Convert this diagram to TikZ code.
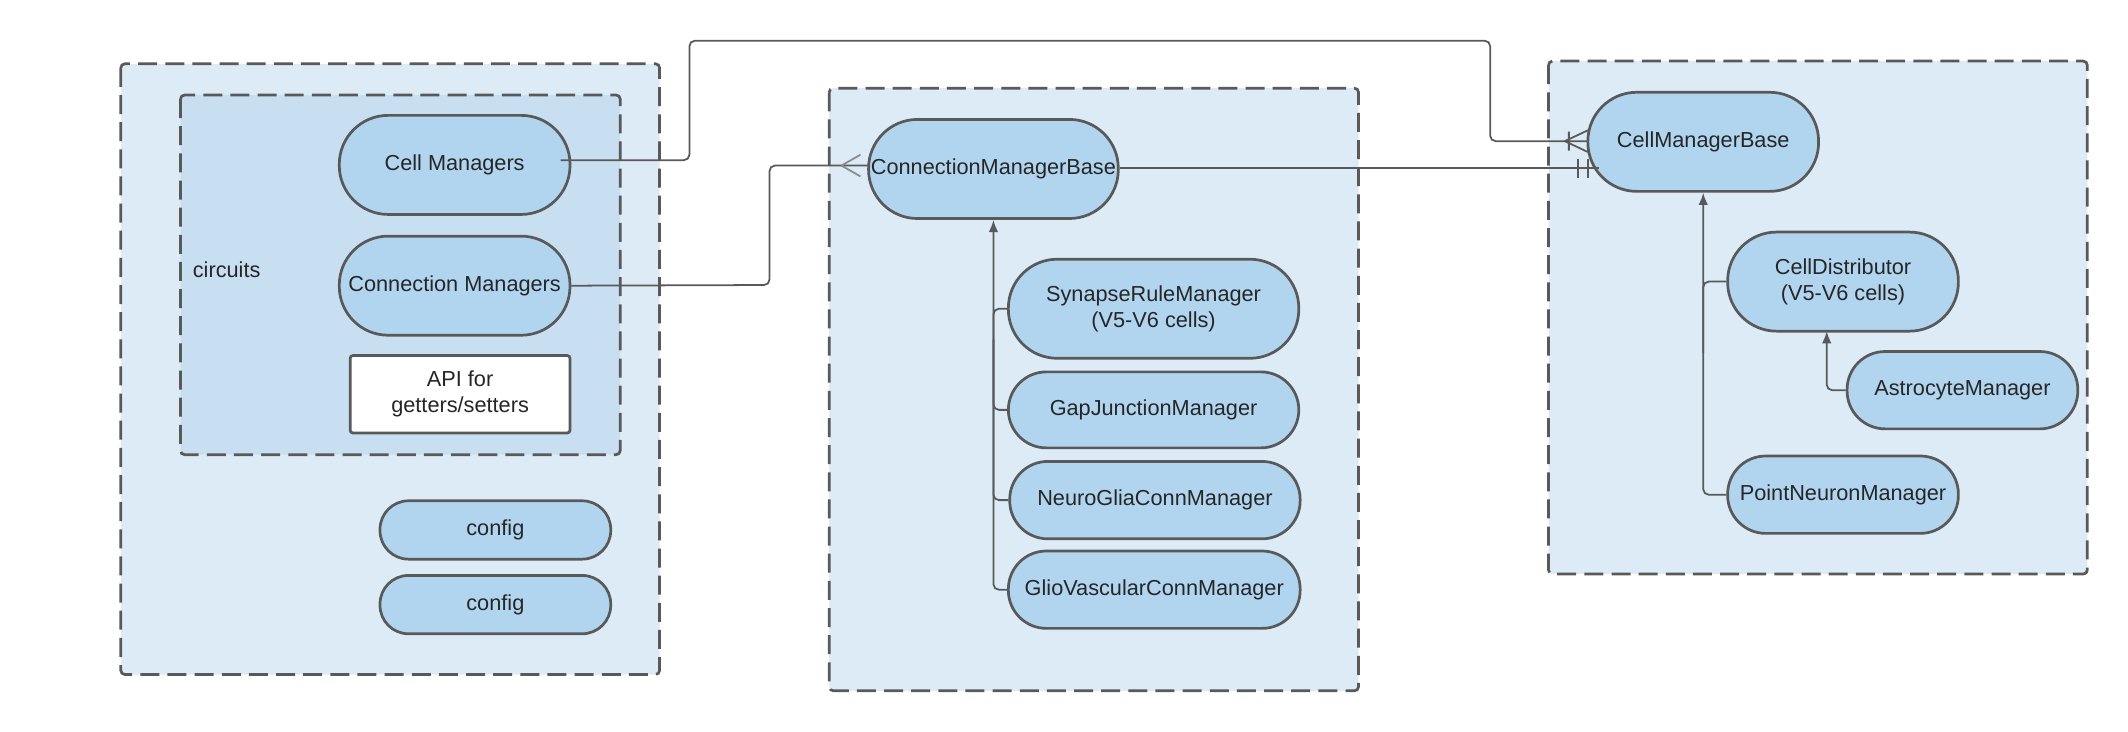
\documentclass[tikz,border=0pt]{standalone}
\usepackage{fontspec}
\setmainfont{Liberation Sans}
\usetikzlibrary{arrows.meta}
\begin{document}
\begin{tikzpicture}[x=1pt,y=-1pt,
  font=\fontsize{16}{19}\selectfont,
  cont/.style={draw=black!65,line width=2pt,dash pattern=on 14pt off 6pt,rounded corners=3pt},
  pill/.style={draw=black!65,line width=2pt,fill=pillc,inner sep=0pt,align=center,text=black!85},
  ln/.style={draw=black!65,line width=1.3pt,rounded corners=4pt}]
\definecolor{pillc}{HTML}{B1D5EF}
\definecolor{outer}{HTML}{DDEBF6}
\definecolor{inner}{HTML}{C8DFF2}
\useasboundingbox (0,0) rectangle (1568,539);
\path[cont,fill=outer] (89,47) rectangle (486,497);
\path[cont,fill=inner] (133,70) rectangle (457,335);
\path[cont,fill=outer] (611,65) rectangle (1001,509);
\path[cont,fill=outer] (1141,45) rectangle (1538,423);
\node[text=black!85] (circ) at (167,199) {circuits};
\newcommand{\pl}[6]{\node[pill,minimum width=#4,minimum height=#5,rounded corners=#6] (#1) at (#2,#3)}
\pl{cm}{335}{121.5}{170pt}{73pt}{36pt}{Cell Managers};
\pl{conm}{335}{210.5}{170pt}{73pt}{36pt}{Connection Managers};
\node[draw=black!65,line width=2pt,fill=white,minimum width=162pt,minimum height=57pt,rounded corners=2pt,align=center,inner sep=0pt,text=black!85] (api) at (339,290.5) {API for\\getters/setters};
\pl{cf1}{365}{390.5}{170pt}{43pt}{21pt}{config};
\pl{cf2}{365}{445.5}{170pt}{43pt}{21pt}{config};
\pl{cmb}{732}{124.5}{184pt}{73pt}{36pt}{ConnectionManagerBase};
\pl{srm}{850}{227.5}{214pt}{73pt}{36pt}{SynapseRuleManager\\(V5-V6 cells)};
\pl{gjm}{850}{302}{214pt}{56pt}{28pt}{GapJunctionManager};
\pl{ngm}{851}{368.5}{214pt}{57pt}{28pt}{NeuroGliaConnManager};
\pl{gvm}{850.5}{434.5}{215pt}{57pt}{28pt}{GlioVascularConnManager};
\pl{cellb}{1255}{104.5}{170pt}{73pt}{36pt}{CellManagerBase};
\pl{cd}{1358}{207.5}{170pt}{73pt}{36pt}{CellDistributor\\(V5-V6 cells)};
\pl{am}{1446}{287.5}{170pt}{57pt}{28pt}{AstrocyteManager};
\pl{pn}{1358}{364.5}{170pt}{57pt}{28pt}{PointNeuronManager};
% Cell Managers -> CellManagerBase
\coordinate (a1) at (1170,104);
\draw[ln] (413,118) -- (508,118) -- (508,30) -- (1098,30) -- (1098,104) -- (a1);
\draw[draw=black!65,line width=1.3pt] (1153,104) -- (1170,96) (1153,104) -- (1170,112) (1156,97) -- (1156,111);
% Connection Managers -> ConnectionManagerBase
\coordinate (a2) at (640,122);
\draw[ln] (conm.east) -- (567,210) -- (567,122) -- (a2);
\draw[draw=black!45,line width=1.3pt] (620,122) -- (634,114) (620,122) -- (634,130);
% CMB -> CellManagerBase
\coordinate (a3) at (1178,124);
\draw[draw=black!65,line width=1.3pt] (cmb.east |- 0,124) -- (a3);
\draw[draw=black!65,line width=1.3pt] (1163,117) -- (1163,131) (1170,117) -- (1170,131);
% inheritance middle
\draw[ln,-{Latex[length=9pt,width=7pt]}] (gvm.west) -- (732,434.5) -- (cmb.south);
\foreach \n in {srm,gjm,ngm}{\draw[ln] (\n.west) -- (732,0 |- \n.west) -- (732,250);}
% inheritance right
\draw[ln,-{Latex[length=9pt,width=7pt]}] (pn.west) -- (1255,364.5) -- (cellb.south);
\draw[ln] (cd.west) -- (1255,207.5) -- (1255,260);
\draw[ln,-{Latex[length=9pt,width=7pt]}] (am.west) -- (1346,287.5) -- (1346,244);
\end{tikzpicture}
\end{document}
